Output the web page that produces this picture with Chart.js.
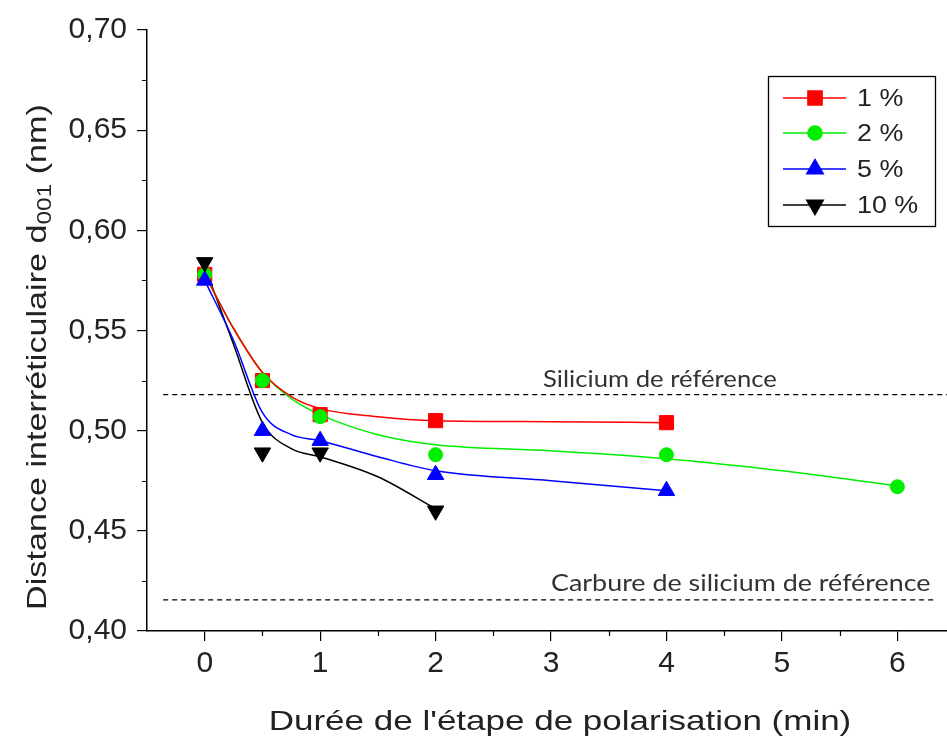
<!DOCTYPE html>
<html>
<head>
<meta charset="utf-8">
<script src="https://cdn.jsdelivr.net/npm/chart.js@4.4.0/dist/chart.umd.min.js"></script>
<style>
  html, body { margin: 0; padding: 0; background: #fff; }
  #wrap { width: 947px; height: 738px; position: relative; }
</style>
</head>
<body>
<div id="wrap"><canvas id="chart"></canvas></div>
<script>
// measured points (x = duration in min, y = d001 in nm)
const x1 = [0, 0.5, 1, 2, 4];
const y1 = [0.578, 0.525, 0.508, 0.505, 0.504];
const x2 = [0, 0.5, 1, 2, 4, 6];
const y2 = [0.578, 0.525, 0.507, 0.488, 0.488, 0.472];
const x5 = [0, 0.5, 1, 2, 4];
const y5 = [0.575, 0.500, 0.495, 0.478, 0.470];
const x10 = [0, 0.5, 1, 2];
const y10 = [0.584, 0.489, 0.489, 0.460];

// fitted curves
const fitX1 = [0, 0.25, 0.5, 0.75, 1, 1.5, 2, 3, 4];
const fitY1 = [0.578, 0.551, 0.529, 0.517, 0.511, 0.507, 0.505, 0.5045, 0.504];
const fitX2 = [0, 0.25, 0.5, 0.75, 1, 1.5, 2, 3, 4, 5, 6];
const fitY2 = [0.578, 0.551, 0.529, 0.516, 0.508, 0.498, 0.493, 0.490, 0.486, 0.480, 0.4725];
const fitX5 = [0, 0.25, 0.5, 0.75, 1, 1.5, 2, 3, 4];
const fitY5 = [0.575, 0.545, 0.509, 0.498, 0.495, 0.487, 0.480, 0.475, 0.470];
const fitX10 = [0, 0.25, 0.5, 0.75, 1, 1.5, 2];
const fitY10 = [0.582, 0.543, 0.504, 0.491, 0.487, 0.477, 0.461];

const seriesLabels = ['1 %', '2 %', '5 %', '10 %'];

// reference lines
const refY = [0.518, 0.4155];
const refXStart = [-0.36, -0.36];
const refXEnd = [6.43, 6.33];
const refLabels = ['Silicium de référence', 'Carbure de silicium de référence'];

// axis ticks
const xTicks = [0, 1, 2, 3, 4, 5, 6];
const xMinorTicks = [0.5, 1.5, 2.5, 3.5, 4.5, 5.5];
const yTicks = [0.40, 0.45, 0.50, 0.55, 0.60, 0.65, 0.70];
const yMinorTicks = [0.425, 0.475, 0.525, 0.575, 0.625, 0.675];

const xTitle = "Durée de l'étape de polarisation (min)";
const yTitleMain = 'Distance interréticulaire d';
const yTitleSub = '001';
const yTitleEnd = ' (nm)';

const colors = ['#ff0000', '#00ee00', '#0000ff', '#000000'];
const styles = [
  { pointStyle: 'rect', radius: 10, rotation: 0 },
  { pointStyle: 'circle', radius: 7, rotation: 0 },
  { pointStyle: 'triangle', radius: 9.5, rotation: 0 },
  { pointStyle: 'triangle', radius: 9.5, rotation: 180 }
];

const FONT = '"Liberation Sans", Arial, sans-serif';

const pts = (xs, ys) => xs.map((x, i) => ({ x: x, y: ys[i] }));

const pointSets = [pts(x1, y1), pts(x2, y2), pts(x5, y5), pts(x10, y10)];
const fitSets = [pts(fitX1, fitY1), pts(fitX2, fitY2), pts(fitX5, fitY5), pts(fitX10, fitY10)];

const datasets = [];

// fit lines underneath
fitSets.forEach((d, i) => {
  datasets.push({
    label: 'fit ' + seriesLabels[i],
    data: d,
    showLine: true,
    borderColor: colors[i],
    borderWidth: 1.5,
    pointRadius: 0,
    cubicInterpolationMode: 'monotone',
    fill: false,
    order: 20
  });
});

// dashed reference lines
refY.forEach((y, i) => {
  datasets.push({
    label: refLabels[i],
    data: [{ x: refXStart[i], y: y }, { x: refXEnd[i], y: y }],
    showLine: true,
    borderColor: '#000',
    borderWidth: 1.3,
    borderDash: [5, 4],
    pointRadius: 0,
    order: 30
  });
});

// markers, 10 % drawn last (on top)
pointSets.forEach((d, i) => {
  datasets.push({
    label: seriesLabels[i],
    data: d,
    showLine: false,
    backgroundColor: colors[i],
    borderColor: colors[i],
    borderWidth: 1,
    pointStyle: styles[i].pointStyle,
    pointRadius: styles[i].radius,
    pointRotation: styles[i].rotation,
    order: 10 - i
  });
});

// draw text stretched horizontally (the source figure uses wide lettering)
function wideText(ctx, text, x, y, sx, align) {
  const w = ctx.measureText(text).width * sx;
  let left = x;
  if (align === 'center') left = x - w / 2;
  ctx.save();
  ctx.translate(left, y);
  ctx.scale(sx, 1);
  ctx.textAlign = 'left';
  ctx.fillText(text, 0, 0);
  ctx.restore();
  return w;
}

const extras = {
  id: 'extras',
  afterDraw(chart) {
    const ctx = chart.ctx;
    const xs = chart.scales.x;
    const ys = chart.scales.y;
    const area = chart.chartArea;

    // minor ticks
    ctx.save();
    ctx.strokeStyle = '#000';
    ctx.lineWidth = 1.2;
    ctx.beginPath();
    xMinorTicks.forEach(v => {
      const px = Math.round(xs.getPixelForValue(v)) + 0.5;
      ctx.moveTo(px, area.bottom);
      ctx.lineTo(px, area.bottom + 5);
    });
    yMinorTicks.forEach(v => {
      const py = Math.round(ys.getPixelForValue(v)) + 0.5;
      ctx.moveTo(area.left, py);
      ctx.lineTo(area.left - 5, py);
    });
    ctx.stroke();
    ctx.restore();

    // reference labels
    ctx.save();
    ctx.fillStyle = '#333';
    ctx.font = '24px Lato, sans-serif';
    ctx.textBaseline = 'alphabetic';
    wideText(ctx, refLabels[0], 543, ys.getPixelForValue(refY[0]) - 8, 1.07, 'left');
    wideText(ctx, refLabels[1], 551, ys.getPixelForValue(refY[1]) - 9, 1.12, 'left');
    ctx.restore();

    // x title
    ctx.save();
    ctx.fillStyle = '#222';
    ctx.font = '28px ' + FONT;
    ctx.textBaseline = 'middle';
    wideText(ctx, xTitle, 560, 722, 1.25, 'center');
    ctx.restore();

    // y title with subscript
    ctx.save();
    ctx.translate(38, 357);
    ctx.rotate(-Math.PI / 2);
    ctx.scale(1.22, 1);
    ctx.fillStyle = '#222';
    ctx.textBaseline = 'middle';
    ctx.textAlign = 'left';
    const big = '28px ' + FONT;
    const small = '20px ' + FONT;
    ctx.font = big;
    const w1 = ctx.measureText(yTitleMain).width;
    const w3 = ctx.measureText(yTitleEnd).width;
    ctx.font = small;
    const w2 = ctx.measureText(yTitleSub).width;
    let tx = -(w1 + w2 + w3) / 2;
    ctx.font = big;
    ctx.fillText(yTitleMain, tx, 0);
    tx += w1;
    ctx.font = small;
    ctx.fillText(yTitleSub, tx, 7);
    tx += w2;
    ctx.font = big;
    ctx.fillText(yTitleEnd, tx, 0);
    ctx.restore();

    // legend box
    ctx.save();
    ctx.strokeStyle = '#000';
    ctx.lineWidth = 1.3;
    ctx.strokeRect(768.5, 76.5, 167, 150);
    const rows = [98, 133, 169, 205];
    ctx.font = '24px ' + FONT;
    ctx.textBaseline = 'middle';
    rows.forEach((ry, i) => {
      ctx.strokeStyle = colors[i];
      ctx.lineWidth = 1.5;
      ctx.beginPath();
      ctx.moveTo(783, ry);
      ctx.lineTo(846, ry);
      ctx.stroke();
      ctx.fillStyle = colors[i];
      Chart.helpers.drawPoint(ctx, {
        pointStyle: styles[i].pointStyle,
        radius: styles[i].radius,
        rotation: styles[i].rotation,
        borderWidth: 1
      }, 815, ry);
      ctx.fillStyle = '#222';
      wideText(ctx, seriesLabels[i], 857, ry + 1, 1.12, 'left');
    });
    ctx.restore();
  }
};

new Chart(document.getElementById('chart'), {
  type: 'scatter',
  data: { datasets: datasets },
  options: {
    responsive: true,
    maintainAspectRatio: false,
    animation: false,
    layout: { autoPadding: false, padding: { top: 30, right: 0, bottom: 0, left: 0 } },
    plugins: {
      legend: { display: false },
      tooltip: { enabled: false }
    },
    scales: {
      x: {
        type: 'linear',
        min: -0.5,
        max: 6.43,
        afterBuildTicks: s => { s.ticks = xTicks.map(v => ({ value: v })); },
        afterFit: s => { s.height = 107; s.paddingLeft = 0; s.paddingRight = 0; },
        ticks: {
          color: '#222',
          font: { size: 30, family: FONT },
          padding: 5,
          maxRotation: 0
        },
        grid: {
          display: true,
          drawOnChartArea: false,
          drawTicks: true,
          tickLength: 10,
          color: '#000',
          lineWidth: 1.2
        },
        border: { display: true, color: '#000', width: 1.5 }
      },
      y: {
        min: 0.4,
        max: 0.7,
        afterBuildTicks: s => { s.ticks = yTicks.map(v => ({ value: v })); },
        afterFit: s => { s.width = 147; s.paddingTop = 0; s.paddingBottom = 0; },
        ticks: {
          color: '#222',
          font: { size: 30, family: FONT },
          padding: 10,
          callback: v => v.toFixed(2).replace('.', ',')
        },
        grid: {
          display: true,
          drawOnChartArea: false,
          drawTicks: true,
          tickLength: 10,
          color: '#000',
          lineWidth: 1.2
        },
        border: { display: true, color: '#000', width: 1.5 }
      }
    }
  },
  plugins: [extras]
});
</script>
</body>
</html>
